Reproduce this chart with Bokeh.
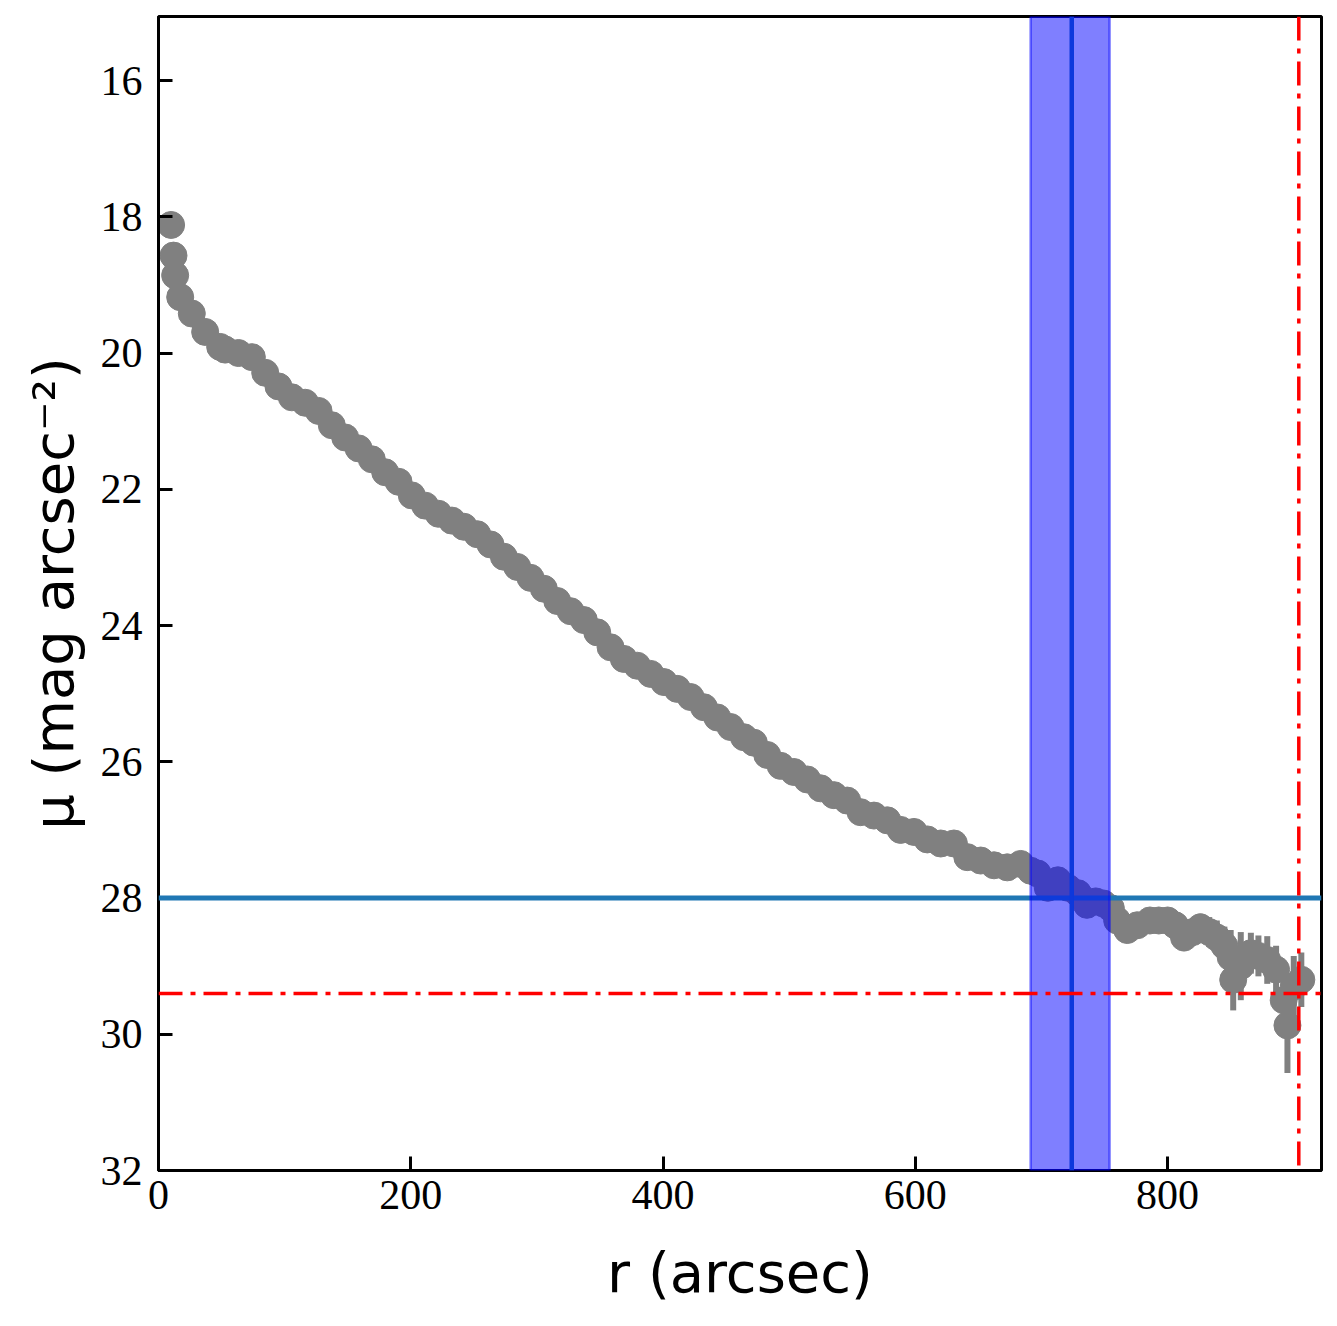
from bokeh.plotting import figure
from bokeh.models import Range1d, FixedTicker, Span, BoxAnnotation, ColumnDataSource
from bokeh.embed import file_html
from bokeh.resources import INLINE

# radius (arcsec)
r = [10, 11.9, 13.2, 17.2, 26.4, 37, 48.9,
     52.9, 63.4, 74, 84.6, 95.1, 105.7, 116.3, 126.9, 137.4, 148,
     158.6, 169.1, 179.7, 190.3, 200.8, 211.4, 222, 232.6,
     242.1, 252.7, 263.2, 273.8, 284.4, 294.9, 305.5, 316.1, 326.7, 337.2,
     347.8, 358.4, 368.9, 379.5, 390.1, 400.7, 411.2, 421.8, 432.4, 443,
     453.5, 464.1, 472, 482.6, 493.2, 503.7, 514.3, 524.9, 535.4, 546,
     556.6, 567.2, 577.8, 588.3, 598.9, 609.5, 620.1, 630.6, 641.2, 651.8,
     662.4, 672.9, 683.5, 691.4, 697,
     705, 713, 721, 729, 736, 743, 749, 755, 760, 768,
     776, 786, 793, 800, 806, 813, 820, 826, 833, 839,
     845, 850, 852, 858, 866, 872, 879, 886, 892, 895,
     900, 906]
# surface brightness (mag arcsec^-2)
mu = [18.12, 18.57, 18.86, 19.18, 19.42, 19.69, 19.91,
      19.95, 20.0, 20.06, 20.29, 20.49, 20.65, 20.73, 20.85, 21.06, 21.24,
      21.4, 21.56, 21.75, 21.89, 22.09, 22.24, 22.36, 22.46,
      22.55, 22.66, 22.81, 22.99, 23.14, 23.3, 23.46, 23.64, 23.79, 23.92,
      24.1, 24.32, 24.49, 24.59, 24.71, 24.83, 24.93, 25.05, 25.2, 25.35,
      25.49, 25.64, 25.72, 25.9, 26.06, 26.15, 26.26, 26.39, 26.49, 26.57,
      26.74, 26.79, 26.86, 27.0, 27.03, 27.14, 27.2, 27.2, 27.4, 27.45,
      27.52, 27.55, 27.5, 27.6, 27.64,
      27.85, 27.74, 27.85, 27.93, 28.1, 28.05, 28.08, 28.15, 28.33, 28.47,
      28.4, 28.33, 28.33, 28.33, 28.4, 28.58, 28.5, 28.43, 28.5, 28.58,
      28.7, 28.87, 29.2, 29.0, 28.81, 28.85, 28.91, 29.05, 29.5, 29.87,
      29.3, 29.2]
# error on mu
mu_err = [0.05] * 70 + [0.05, 0.05, 0.05, 0.05, 0.06, 0.06, 0.06, 0.07, 0.08, 0.1,
                        0.12, 0.15, 0.15, 0.17, 0.18, 0.2, 0.2, 0.2, 0.22, 0.25,
                        0.28, 0.4, 0.45, 0.5, 0.3, 0.3, 0.35, 0.35, 0.4, 0.7,
                        0.45, 0.4]

sky_level = 28.0
limit_mu = 29.4
limit_r = 904
break_r = 724
break_lo = 691.4
break_hi = 754

x_ticks = [0, 200, 400, 600, 800]
y_ticks = [16, 18, 20, 22, 24, 26, 28, 30, 32]

lo = [m - e for m, e in zip(mu, mu_err)]
hi = [m + e for m, e in zip(mu, mu_err)]
src = ColumnDataSource(dict(r=r, mu=mu, lo=lo, hi=hi))

p = figure(width=1333, height=1320, output_backend="svg", toolbar_location=None,
           x_range=Range1d(0, 922), y_range=Range1d(32, 15.06),
           min_border_left=158, min_border_right=12, min_border_top=16, min_border_bottom=150)
p.grid.visible = False
p.outline_line_color = "black"
p.outline_line_width = 3
p.background_fill_color = "white"

p.segment(x0="r", y0="lo", x1="r", y1="hi", source=src, line_color="#808080", line_width=6)
p.scatter(x="r", y="mu", source=src, size=27, fill_color="#808080", line_color="#808080")

p.add_layout(Span(location=sky_level, dimension="width", line_color="#1f77b4", line_width=5))
p.add_layout(BoxAnnotation(left=break_lo, right=break_hi, fill_color="blue", fill_alpha=0.5,
                           line_color="blue", line_alpha=0.5, line_width=2.5))
p.add_layout(Span(location=break_r, dimension="height", line_color="#0d38dc", line_width=4.5))
p.add_layout(Span(location=limit_mu, dimension="width", line_color="red", line_width=3.5,
                  line_dash="24 8 5 8"))
p.add_layout(Span(location=limit_r, dimension="height", line_color="red", line_width=3.5,
                  line_dash="24 8 5 8"))

for ax, ticks in ((p.xaxis[0], x_ticks), (p.yaxis[0], y_ticks)):
    ax.ticker = FixedTicker(ticks=ticks)
    ax.major_tick_in = 14
    ax.major_tick_out = 0
    ax.minor_tick_in = 0
    ax.minor_tick_out = 0
    ax.major_tick_line_width = 3
    ax.axis_line_width = 3
    ax.major_label_text_font = "Liberation Serif"
    ax.major_label_text_font_size = "42px"
    ax.major_label_text_color = "black"
    ax.axis_label_text_font = "DejaVu Sans"
    ax.axis_label_text_font_style = "normal"
    ax.axis_label_text_font_size = "56px"
    ax.axis_label_text_color = "black"

p.xaxis.axis_label = "r (arcsec)"
p.yaxis.axis_label = "μ (mag arcsec⁻²)"
p.xaxis.major_label_standoff = 10
p.yaxis.major_label_standoff = 16
p.xaxis.axis_label_standoff = 28
p.yaxis.axis_label_standoff = 12

open("out.html", "w").write(file_html(p, INLINE))
